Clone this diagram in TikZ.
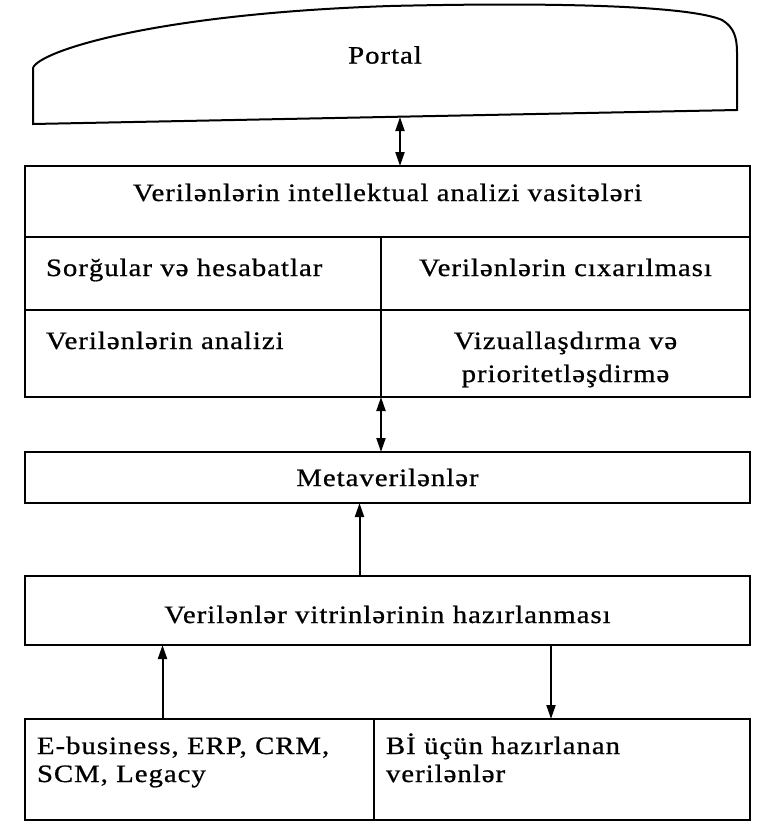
\documentclass[tikz,border=0pt]{standalone}
\usepackage{fontspec}
\setmainfont{Liberation Serif}[LetterSpace=4,FakeStretch=1.15,FakeBold=0.8]
\usetikzlibrary{arrows.meta,positioning}

\begin{document}
\begin{tikzpicture}[x=1pt,y=-1pt,line width=2pt,>={Triangle[length=14pt,width=9pt]},
  every node/.style={font=\fontsize{25}{28}\selectfont},
  box/.style={draw,inner xsep=0pt,inner ysep=0pt,outer sep=0pt,align=center}]
\useasboundingbox (0,0) rectangle (758,825);
% portal
\draw (33,124) -- (33,68) .. controls (38,52) and (150,14) .. (390,6)
  .. controls (560,2) and (690,6) .. (722,20) .. controls (734,27) and (737,38) .. (737,52)
  -- (737,110) -- cycle;
\node (portal) at (385,55) {Portal};
\coordinate (portalbot) at (400,117);
% analysis tools
\node[box,text width=725pt,text height=35pt,text depth=36pt] (tools) at (387.5,201.5) {Verilənlərin intellektual analizi vasitələri};
\node[box,text width=314pt,inner xsep=21pt,align=left,text height=39pt,text depth=34pt,below right=0pt and 0pt of tools.south west] (query) {Sorğular və hesabatlar};
\node[box,text width=369pt,text height=39pt,text depth=34pt,right=0pt of query] (extract) {Verilənlərin cıxarılması};
\node[box,text width=314pt,inner xsep=21pt,align=left,text height=39pt,text depth=48pt,below=0pt of query] (analysis) {Verilənlərin analizi};
\node[box,text width=369pt,text height=39pt,text depth=48pt,below=0pt of extract] (visual) {Vizuallaşdırma və\\[5pt]prioritetləşdirmə};
% lower boxes
\node[box,text width=725pt,minimum height=51pt,below left=55pt and 0pt of visual.south east] (meta) {Metaverilənlər};
\node[box,text width=725pt,text height=47pt,text depth=22pt,below=73pt of meta] (vitrin) {Verilənlər vitrinlərinin hazırlanması};
\node[box,text width=325pt,inner xsep=12pt,align=left,text height=35pt,text depth=66pt,below right=74pt and 0pt of vitrin.south west] (source) {E-business, ERP, CRM,\\SCM, Legacy};
\node[box,text width=352pt,inner xsep=12pt,align=left,text height=35pt,text depth=66pt,right=0pt of source] (bidata) {Bİ üçün hazırlanan\\verilənlər};
% arrows
\draw[<->] (portalbot) -- (portalbot |- tools.north);
\draw[<->] (analysis.south east) -- (analysis.south east |- meta.north);
\draw[->] ([xshift=-28pt]vitrin.north) -- ([xshift=-28pt]meta.south);
\draw[->] ([xshift=-37pt]source.north) -- ([xshift=-37pt]source.north |- vitrin.south);
\draw[->] ([xshift=-11pt]bidata.north |- vitrin.south) -- ([xshift=-11pt]bidata.north);
\end{tikzpicture}
\end{document}
